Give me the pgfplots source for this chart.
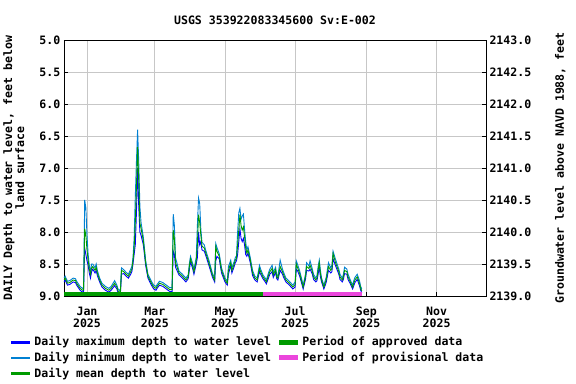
\documentclass[border=0pt]{standalone}
\usepackage{pgfplots}
\pgfplotsset{compat=1.18}
\usepackage{pgfplotstable}
\usepackage{fontspec}
\setmainfont{DejaVu Sans Mono}

\definecolor{maxblue}{RGB}{0,0,255}
\definecolor{minblue}{RGB}{0,128,210}
\definecolor{meangreen}{RGB}{0,155,0}
\definecolor{provpink}{RGB}{235,70,220}

% day (0 = 1 Jan 2025), daily max / min / mean depth, feet
\pgfplotstableread{
day max min mean
-20 8.78 8.72 8.75
-19 8.75 8.69 8.72
-17 8.83 8.77 8.80
-15 8.82 8.76 8.79
-12 8.78 8.72 8.75
-10 8.79 8.73 8.76
-9 8.83 8.77 8.80
-6 8.91 8.85 8.88
-4 8.94 8.88 8.91
-3 8.93 8.87 8.90
-2 8.25 7.50 7.95
-1 8.35 7.62 8.05
0 8.45 8.05 8.28
1 8.52 8.35 8.44
2 8.64 8.52 8.58
3 8.72 8.62 8.66
4 8.62 8.50 8.56
5 8.58 8.50 8.54
7 8.64 8.56 8.60
8 8.60 8.50 8.55
9 8.68 8.60 8.64
11 8.78 8.72 8.75
13 8.86 8.80 8.83
16 8.91 8.85 8.88
19 8.94 8.88 8.91
21 8.91 8.85 8.88
24 8.84 8.76 8.80
26 8.89 8.83 8.86
27 8.95 8.89 8.92
29 8.98 8.92 8.95
30 8.66 8.56 8.60
32 8.65 8.59 8.62
34 8.69 8.63 8.66
36 8.72 8.66 8.69
38 8.66 8.58 8.62
39 8.62 8.54 8.58
40 8.50 8.40 8.45
41 8.35 8.10 8.25
42 8.20 7.45 7.85
43 7.70 6.90 7.30
44 7.00 6.40 6.67
45 7.60 6.90 7.20
46 8.00 7.60 7.86
47 8.05 7.85 7.94
49 8.20 8.08 8.14
51 8.52 8.44 8.48
53 8.72 8.66 8.69
56 8.83 8.77 8.80
58 8.89 8.83 8.86
60 8.91 8.85 8.88
61 8.88 8.82 8.85
63 8.83 8.77 8.80
66 8.85 8.79 8.82
69 8.89 8.83 8.86
72 8.93 8.87 8.90
74 8.93 8.87 8.90
75 8.30 7.72 7.97
76 8.35 7.90 8.10
77 8.55 8.40 8.48
80 8.67 8.61 8.64
83 8.72 8.66 8.69
86 8.78 8.72 8.75
88 8.73 8.67 8.70
89 8.60 8.50 8.54
90 8.46 8.38 8.42
92 8.58 8.50 8.54
93 8.66 8.58 8.62
95 8.50 8.40 8.45
96 8.40 7.90 8.20
97 8.00 7.47 7.73
98 8.20 7.55 7.85
99 8.15 7.95 8.05
100 8.28 8.16 8.22
102 8.30 8.20 8.25
103 8.35 8.27 8.31
106 8.52 8.44 8.48
109 8.70 8.64 8.67
111 8.78 8.72 8.75
112 8.45 8.18 8.23
113 8.38 8.24 8.30
115 8.42 8.34 8.38
117 8.64 8.56 8.60
120 8.78 8.72 8.75
122 8.83 8.77 8.80
123 8.66 8.54 8.60
125 8.52 8.44 8.48
126 8.64 8.56 8.60
128 8.54 8.46 8.50
129 8.48 8.40 8.44
130 8.45 8.37 8.41
131 8.35 8.00 8.20
132 8.15 7.70 7.97
133 7.95 7.63 7.73
134 8.10 7.80 7.90
135 8.15 7.75 7.97
136 8.10 7.72 7.92
137 8.20 7.95 8.07
138 8.35 8.15 8.25
139 8.38 8.28 8.33
140 8.33 8.23 8.28
142 8.48 8.40 8.44
144 8.68 8.60 8.64
146 8.75 8.69 8.72
148 8.78 8.72 8.75
150 8.62 8.52 8.57
151 8.66 8.58 8.62
153 8.73 8.67 8.70
155 8.78 8.72 8.75
156 8.81 8.75 8.78
158 8.71 8.63 8.67
159 8.66 8.58 8.62
161 8.62 8.52 8.57
162 8.71 8.63 8.67
164 8.63 8.55 8.59
165 8.73 8.67 8.70
166 8.75 8.69 8.72
168 8.60 8.44 8.54
170 8.66 8.58 8.62
171 8.71 8.63 8.67
173 8.78 8.72 8.75
176 8.83 8.77 8.80
179 8.89 8.83 8.86
181 8.86 8.78 8.82
182 8.58 8.45 8.50
183 8.60 8.50 8.55
185 8.69 8.61 8.65
188 8.89 8.83 8.86
190 8.74 8.66 8.70
191 8.60 8.48 8.54
193 8.61 8.53 8.57
194 8.58 8.45 8.52
196 8.66 8.58 8.62
197 8.74 8.66 8.70
199 8.78 8.72 8.75
200 8.76 8.68 8.72
201 8.66 8.54 8.60
202 8.54 8.44 8.48
203 8.70 8.60 8.65
204 8.78 8.72 8.75
206 8.89 8.83 8.86
208 8.79 8.71 8.75
210 8.60 8.48 8.54
212 8.64 8.56 8.60
213 8.62 8.52 8.57
214 8.42 8.30 8.34
216 8.52 8.42 8.47
219 8.66 8.58 8.62
220 8.74 8.66 8.70
222 8.78 8.72 8.75
223 8.74 8.66 8.70
224 8.65 8.55 8.60
226 8.66 8.58 8.62
227 8.74 8.66 8.70
229 8.81 8.75 8.78
231 8.89 8.83 8.86
232 8.84 8.76 8.80
233 8.79 8.71 8.75
235 8.74 8.66 8.70
236 8.79 8.71 8.75
237 8.84 8.76 8.80
238 8.91 8.85 8.88
239 8.95 8.89 8.92
}\gwdata

\begin{document}
\begin{tikzpicture}
\pgfplotsset{
  every axis/.append style={
    scale only axis, width=422bp, height=256bp,
    font=\fontsize{11.6}{12}\selectfont\bfseries,
    /pgf/number format/assume math mode=true,
    tick style={black, thin}, major tick length=4bp,
  },
}
\begin{axis}[
  name=ax,
  xmin=-20, xmax=347,
  ymin=5, ymax=9, y dir=reverse,
  xtick={0,59,120,181,243,304},
  xticklabels={Jan\\2025,Mar\\2025,May\\2025,Jul\\2025,Sep\\2025,Nov\\2025},
  xticklabel style={align=center, yshift=-7bp},
  xtick pos=bottom, ytick pos=left, tick align=inside,
  ytick={5,5.5,...,9},
  yticklabel style={/pgf/number format/fixed,/pgf/number format/precision=1,
    /pgf/number format/fixed zerofill},
  grid=major, major grid style={black!22, line width=0.8pt},
  title={USGS 353922083345600 Sv:E-002},
  title style={yshift=6bp},
  ylabel={DAILY Depth to water level, feet below\\land surface},
  ylabel style={align=center, yshift=8bp},
  line width=0.9pt,
]
  \addplot[maxblue] table[x=day, y=max] {\gwdata};
  \addplot[minblue] table[x=day, y=min] {\gwdata};
  \addplot[meangreen] table[x=day, y=mean] {\gwdata};
  % approval status bars along the bottom
  \addplot[meangreen, line width=4bp] coordinates {(-20,8.967) (153,8.967)};
  \addplot[provpink, line width=4bp] coordinates {(153,8.967) (239,8.967)};
\end{axis}
\begin{axis}[
  xmin=-20, xmax=347, ymin=2139, ymax=2143,
  axis x line=none, axis y line*=right, tick align=inside,
  ytick={2139,2139.5,...,2143},
  yticklabel style={/pgf/number format/fixed,/pgf/number format/precision=1,
    /pgf/number format/fixed zerofill,/pgf/number format/1000 sep={}},
  ylabel={Groundwater level above NAVD 1988, feet},
  ylabel style={yshift=-17bp},
  legend columns=2,
  legend cell align=left,
  legend style={at={(axis description cs:-0.133,-0.142)}, anchor=north west,
    draw=none, fill=none, row sep=0.8bp,
    font=\fontsize{11.6}{12}\selectfont\bfseries,
    /tikz/every odd column/.append style={column sep=3bp},
    /tikz/every even column/.append style={column sep=6bp}},
]
  \addlegendimage{legend image code/.code={\fill[maxblue] (0bp,-0.75bp) rectangle (18bp,0.75bp);}}
  \addlegendentry{Daily maximum depth to water level}
  \addlegendimage{legend image code/.code={\fill[meangreen] (0bp,-2bp) rectangle (18bp,2bp);}}
  \addlegendentry{Period of approved data}
  \addlegendimage{legend image code/.code={\fill[minblue] (0bp,-0.75bp) rectangle (18bp,0.75bp);}}
  \addlegendentry{Daily minimum depth to water level}
  \addlegendimage{legend image code/.code={\fill[provpink] (0bp,-2bp) rectangle (18bp,2bp);}}
  \addlegendentry{Period of provisional data}
  \addlegendimage{legend image code/.code={\fill[meangreen] (0bp,-0.75bp) rectangle (18bp,0.75bp);}}
  \addlegendentry{Daily mean depth to water level}
\end{axis}
\pgfresetboundingbox
\path[use as bounding box] ([shift={(-64bp,-88bp)}]ax.south west)
  rectangle ([shift={(90bp,40bp)}]ax.north east);
\end{tikzpicture}
\end{document}
